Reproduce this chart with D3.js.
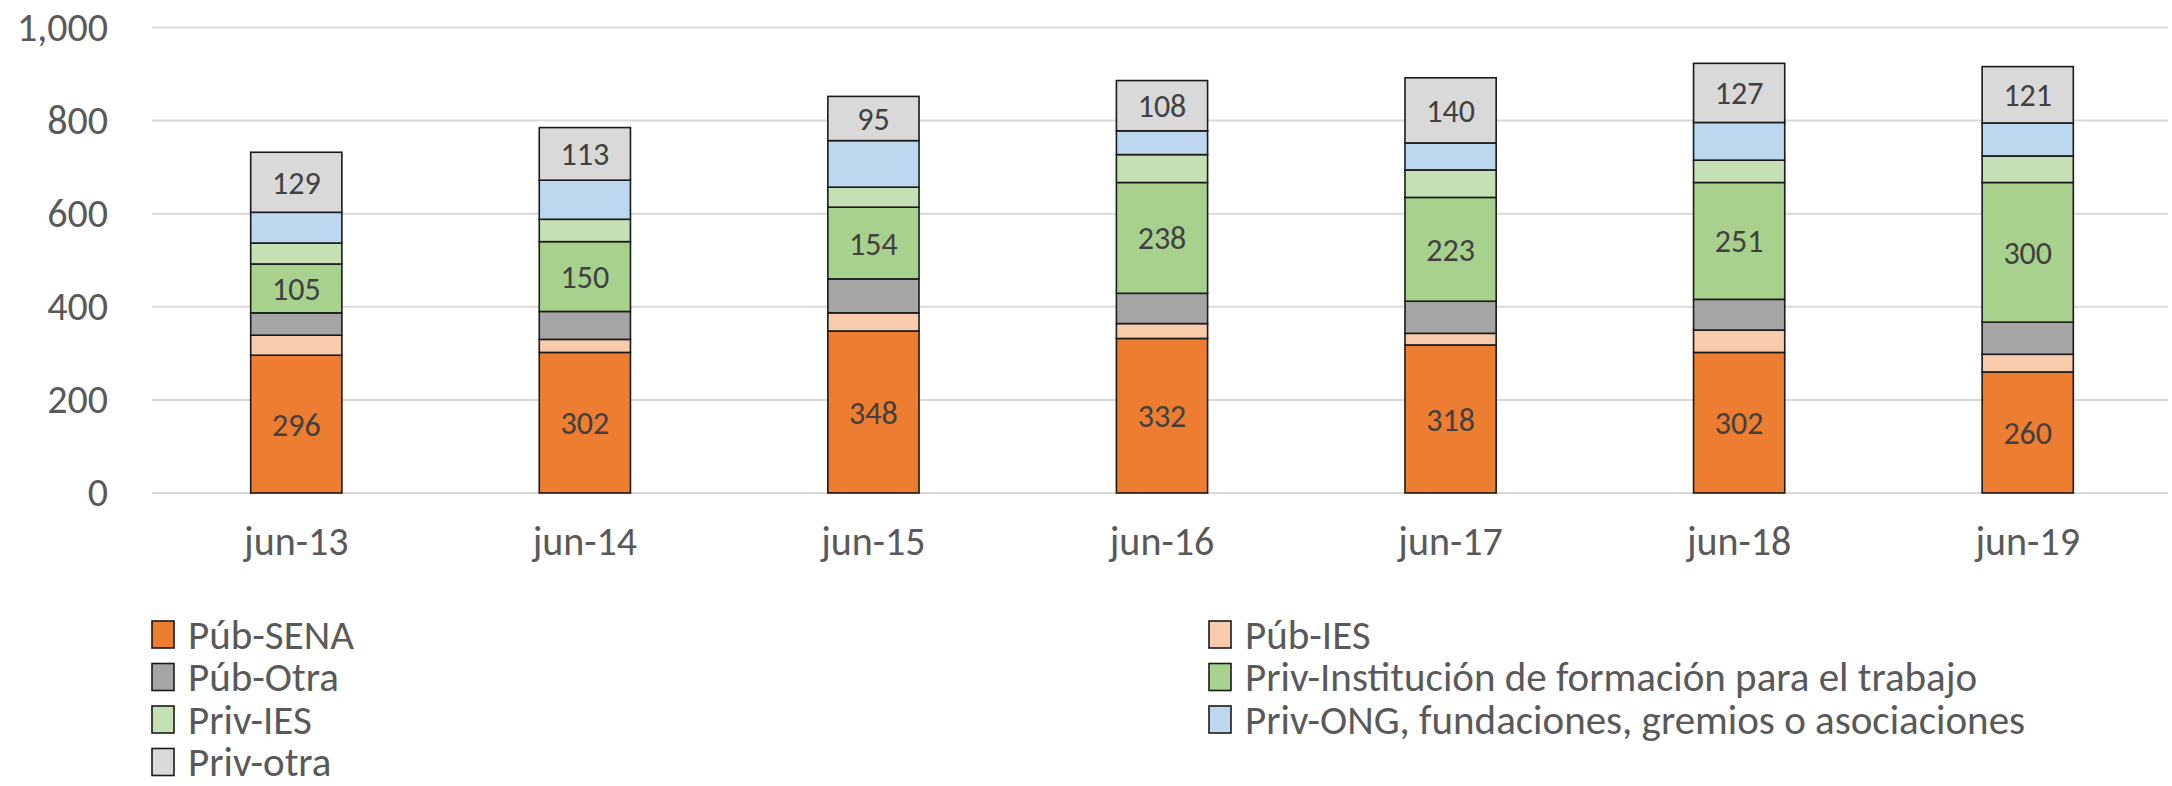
<!DOCTYPE html>
<html lang="es">
<head>
<meta charset="UTF-8">
<title>Matrícula por tipo de institución</title>
<script src="https://d3js.org/d3.v7.min.js"></script>
<style>
  body { margin: 0; background: #fff; }
  svg text { font-family: Carlito, "Liberation Sans Narrow", "Open Sans", sans-serif; }
  .tick text { fill: #595959; }
  .label { fill: #404040; }
  .legend text { fill: #595959; }
</style>
</head>
<body>
<svg id="chart" width="2172" height="786"></svg>
<script>
const categories = ["jun-13", "jun-14", "jun-15", "jun-16", "jun-17", "jun-18", "jun-19"];
const seriesNames = [
  "Púb-SENA", "Púb-IES", "Púb-Otra",
  "Priv-Institución de formación para el trabajo", "Priv-IES",
  "Priv-ONG, fundaciones, gremios o asociaciones", "Priv-otra"
];
const colors = ["#ED7D31", "#F8CBAD", "#A5A5A5", "#A9D18E", "#C5E0B4", "#BDD7EE", "#D9D9D9"];

// values per series, one per category
const pubSena  = [296, 302, 348, 332, 318, 302, 260];
const pubIes   = [43, 28, 39, 32, 25, 48, 38];
const pubOtra  = [48, 60, 73, 65, 69, 66, 69];
const privInst = [105, 150, 154, 238, 223, 251, 300];
const privIes  = [45, 48, 43, 60, 59, 48, 57];
const privOng  = [66, 84, 100, 51, 58, 81, 71];
const privOtra = [129, 113, 95, 108, 140, 127, 121];
const seriesValues = [pubSena, pubIes, pubOtra, privInst, privIes, privOng, privOtra];
const labelled = [0, 3, 6];   // series that show data labels
const yTicks = [0, 200, 400, 600, 800, 1000];

const svg = d3.select("#chart");

const x = d3.scaleBand().domain(categories).range([152, 2172]).paddingInner(0.684).paddingOuter(0.342);
const y = d3.scaleLinear().domain([0, 1000]).range([493, 27.5]);

// rows for the stack
const rows = categories.map((c, i) => {
  const r = { cat: c };
  seriesNames.forEach((s, k) => r[s] = seriesValues[k][i]);
  return r;
});
const stacked = d3.stack().keys(seriesNames)(rows);

// gridlines
svg.append("g")
  .selectAll("line")
  .data(yTicks)
  .join("line")
  .attr("x1", 152).attr("x2", 2168)
  .attr("y1", d => y(d)).attr("y2", d => y(d))
  .attr("stroke", "#D9D9D9").attr("stroke-width", 2);

// y axis labels
const yAxis = svg.append("g")
  .attr("transform", "translate(122,0)")
  .call(d3.axisLeft(y).tickValues(yTicks).tickFormat(d3.format(",")).tickSize(0).tickPadding(14));
yAxis.select(".domain").remove();
yAxis.selectAll("text").style("font-size", "40px");

// x axis labels
const xAxis = svg.append("g")
  .attr("transform", "translate(0,493)")
  .call(d3.axisBottom(x).tickSize(0).tickPadding(34));
xAxis.select(".domain").remove();
xAxis.selectAll("text").style("font-size", "40px");

// bars
const layers = svg.append("g")
  .selectAll("g")
  .data(stacked)
  .join("g")
  .attr("fill", (d, i) => colors[i]);

layers.selectAll("rect")
  .data(d => d)
  .join("rect")
  .attr("x", d => x(d.data.cat))
  .attr("y", d => y(d[1]))
  .attr("width", x.bandwidth())
  .attr("height", d => y(d[0]) - y(d[1]))
  .attr("stroke", "#1a1a1a")
  .attr("stroke-width", 1.6);

// data labels
labelled.forEach(k => {
  svg.append("g")
    .selectAll("text")
    .data(stacked[k])
    .join("text")
    .attr("class", "label")
    .attr("x", d => x(d.data.cat) + x.bandwidth() / 2)
    .attr("y", d => (y(d[0]) + y(d[1])) / 2)
    .attr("dy", "0.36em")
    .attr("text-anchor", "middle")
    .style("font-size", "32px")
    .text(d => d[1] - d[0]);
});

// legend, two columns
const legend = svg.append("g").attr("class", "legend");
const legendItems = seriesNames.map((name, i) => ({
  name: name,
  color: colors[i],
  col: i % 2,
  row: Math.floor(i / 2)
}));
const colX = [152, 1209];
const legendG = legend.selectAll("g")
  .data(legendItems)
  .join("g")
  .attr("transform", d => `translate(${colX[d.col]},${634 + d.row * 42.5})`);

legendG.append("rect")
  .attr("x", 0).attr("y", -13)
  .attr("width", 22).attr("height", 27)
  .attr("fill", d => d.color)
  .attr("stroke", "#1a1a1a")
  .attr("stroke-width", 1.6);

legendG.append("text")
  .attr("x", 36)
  .attr("dy", "0.36em")
  .style("font-size", "41px")
  .text(d => d.name);
</script>
</body>
</html>
